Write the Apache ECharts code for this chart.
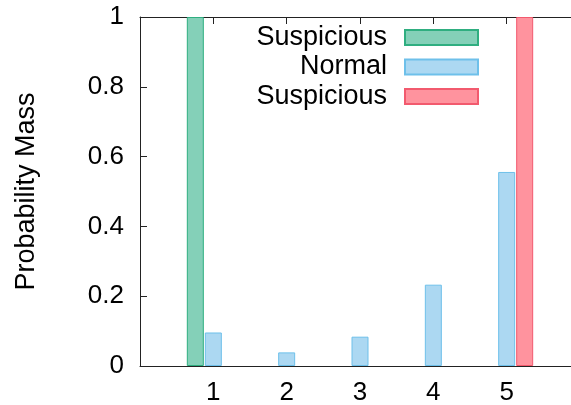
<!DOCTYPE html>
<html>
<head>
<meta charset="utf-8">
<script src="https://cdn.jsdelivr.net/npm/echarts@6/dist/echarts.min.js"></script>
<style>
	html, body { margin: 0; padding: 0; background: #fff; }
	#chart { width: 571px; height: 405px; }
</style>
</head>
<body>
<div id="chart"></div>
<script>
/* 数据 */
var categories = ['', '1', '2', '3', '4', '5', ''];
var suspiciousLow = [null, 1, null, null, null, null, null];
var normal = [null, 0.096, 0.039, 0.084, 0.233, 0.556, null];
var suspiciousHigh = [null, null, null, null, null, 1, null];
var yTicks = [0, 0.2, 0.4, 0.6, 0.8, 1];
var legendNames = { 'Suspicious-low': 'Suspicious', 'Normal': 'Normal', 'Suspicious-high': 'Suspicious' };

var font = 'Liberation Sans';
var axisColor = '#222';

var chart = echarts.init(document.getElementById('chart'));
chart.setOption({
	backgroundColor : '#fff',
	animation : false,
	textStyle : { fontFamily : font },
	grid : {
		left : 140,
		top : 17,
		width : 440,
		height : 349,
		outerBoundsMode : 'none',
		containLabel : false
	},
	legend : {
		orient : 'vertical',
		align : 'right',
		right : 92,
		top : 24,
		padding : 0,
		itemWidth : 73,
		itemHeight : 15,
		itemGap : 2.5,
		icon : 'rect',
		selectedMode : false,
		formatter : function(name) {
			return legendNames[name];
		},
		textStyle : {
			fontFamily : font,
			fontSize : 27,
			lineHeight : 25,
			color : '#000',
			padding : [ 0, 13, 0, 0 ]
		},
		data : [ 'Suspicious-low', 'Normal', 'Suspicious-high' ]
	},
	xAxis : [ {
		type : 'category',
		data : categories,
		boundaryGap : false,
		axisLine : { lineStyle : { color : axisColor, width : 1 } },
		axisTick : { inside : true, length : 7, lineStyle : { color : axisColor } },
		axisLabel : { fontSize : 26, color : '#000', margin : 14 },
		splitLine : { show : false }
	}, {
		type : 'category',
		position : 'top',
		data : categories,
		boundaryGap : false,
		axisLine : { lineStyle : { color : axisColor, width : 1 } },
		axisTick : { inside : true, length : 7, lineStyle : { color : axisColor } },
		axisLabel : { show : false },
		splitLine : { show : false }
	} ],
	yAxis : {
		type : 'value',
		min : 0,
		max : 1,
		interval : 0.2,
		name : 'Probability Mass',
		nameLocation : 'middle',
		nameGap : 100,
		nameTextStyle : { fontSize : 27, color : '#000', fontFamily : font },
		axisLine : { show : true, lineStyle : { color : axisColor, width : 1 } },
		axisTick : { show : true, inside : true, length : 7, lineStyle : { color : axisColor } },
		axisLabel : {
			fontSize : 26,
			color : '#000',
			margin : 16,
			formatter : function(v) {
				return yTicks.indexOf(Math.round(v * 10) / 10) >= 0 ? String(Math.round(v * 10) / 10) : '';
			}
		},
		splitLine : { show : false }
	},
	series : [ {
		name : 'Suspicious-low',
		type : 'bar',
		data : suspiciousLow,
		barWidth : 17,
		barGap : '6%',
		itemStyle : { color : '#84d0b8', borderColor : '#2fae80', borderWidth : 1 }
	}, {
		name : 'Normal',
		type : 'bar',
		data : normal,
		barWidth : 17,
		barGap : '6%',
		itemStyle : { color : '#acd8f2', borderColor : '#6ec0ea', borderWidth : 1 }
	}, {
		name : 'Suspicious-high',
		type : 'bar',
		data : suspiciousHigh,
		barWidth : 17,
		barGap : '6%',
		itemStyle : { color : '#ff939e', borderColor : '#f25a6e', borderWidth : 1 }
	} ]
});
</script>
</body>
</html>
